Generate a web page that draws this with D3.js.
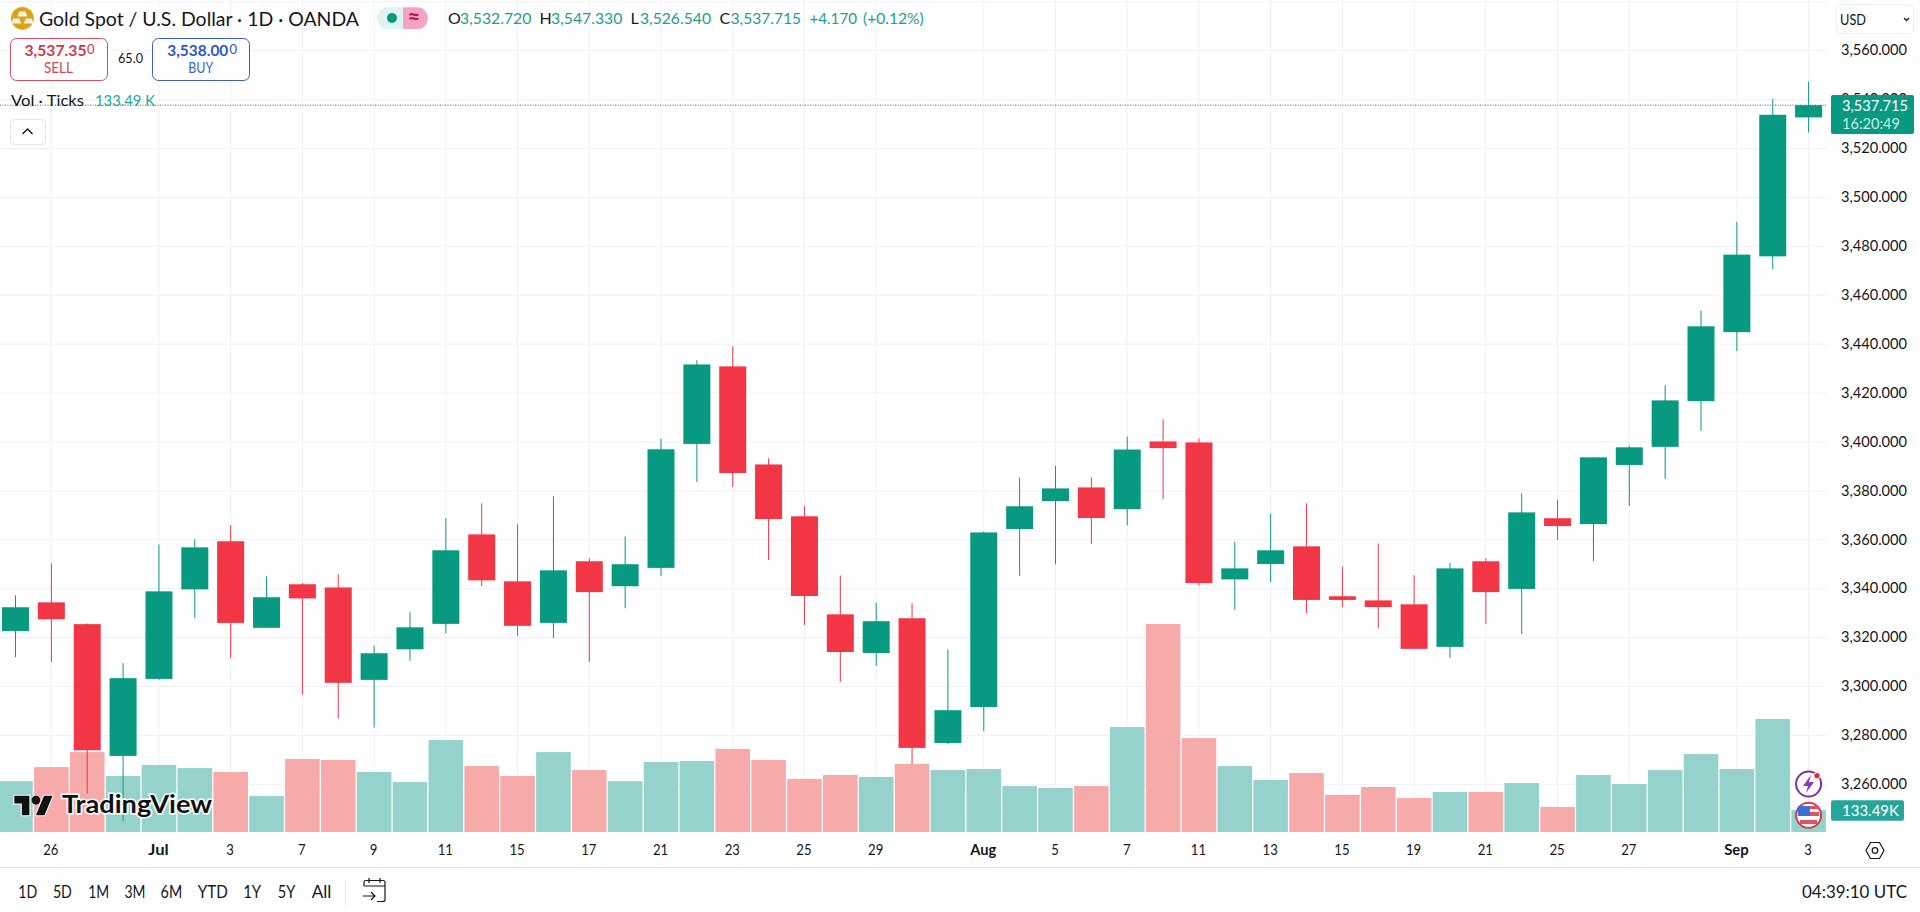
<!DOCTYPE html>
<html><head><meta charset="utf-8">
<script src="https://cdn.jsdelivr.net/npm/d3@7"></script>
<style>html,body{margin:0;padding:0;background:#fff;overflow:hidden}svg{display:block}text{font-family:Lato,"Open Sans",sans-serif}</style>
</head><body><svg id="c" width="1920" height="912"></svg>
<script>
const dates=["Jun 25","Jun 26","Jun 27","Jun 30","Jul 1","Jul 2","Jul 3","Jul 4","Jul 7","Jul 8","Jul 9","Jul 10","Jul 11","Jul 14","Jul 15","Jul 16","Jul 17","Jul 18","Jul 21","Jul 22","Jul 23","Jul 24","Jul 25","Jul 28","Jul 29","Jul 30","Jul 31","Aug 1","Aug 4","Aug 5","Aug 6","Aug 7","Aug 8","Aug 11","Aug 12","Aug 13","Aug 14","Aug 15","Aug 18","Aug 19","Aug 20","Aug 21","Aug 22","Aug 25","Aug 26","Aug 27","Aug 28","Aug 29","Sep 1","Sep 2","Sep 3"];
const opens=[3322.7,3334.4,3325.5,3271.6,3303.1,3339.7,3359.4,3324,3341.8,3340.5,3302.7,3315.2,3325.6,3362.2,3343,3326,3351.2,3341,3348.5,3399.2,3430.9,3390.8,3369.6,3329.5,3313.7,3327.9,3276.9,3291.6,3364.4,3375.8,3381.4,3372.5,3400.2,3399.8,3343.8,3350.1,3357.3,3336.9,3335.2,3333.6,3316.2,3351.2,3339.9,3368.8,3366.4,3390.6,3398,3416.7,3444.9,3475.9,3532.72];
const highs=[3337.3,3350.4,3325.8,3309.5,3358.1,3360.2,3366,3345,3342.3,3345.9,3316.7,3330.4,3368.8,3374.9,3366.3,3377.8,3352.4,3361.3,3401.3,3433.4,3439.1,3393.3,3373.7,3345.4,3334.3,3334,3315.2,3363.4,3385.5,3390.3,3385.5,3402.2,3409.2,3401.5,3359.2,3370.7,3374.9,3349.1,3358.5,3345.5,3350.5,3352.4,3379,3376.4,3393.7,3398.5,3423.2,3453.8,3490,3540.3,3547.33];
const lows=[3312,3310,3256.3,3244.8,3302.7,3327.9,3311.5,3324,3296.6,3287,3283.2,3310.5,3321.8,3341,3320.7,3319.7,3310,3332,3345.2,3383.6,3381.6,3351.7,3325.2,3301.9,3308.4,3268.3,3276.4,3281.7,3345.2,3350,3358.3,3365.9,3376.5,3341.2,3331.4,3342.7,3330,3332.5,3323.8,3315.4,3311.7,3325.6,3321.5,3359.9,3351.3,3373.8,3384.9,3404.5,3437.1,3470.7,3526.54];
const closes=[3332.4,3327.5,3273.9,3303.4,3338.9,3356.9,3326,3336.5,3336,3301.5,3313.6,3324.2,3355.7,3343.4,3324.8,3347.5,3338.6,3350,3397,3431.7,3387.3,3368.5,3337,3314.1,3326.7,3274.9,3290.3,3363,3373.7,3381,3368.9,3396.9,3397.5,3342.3,3348.3,3355.7,3335.4,3335.4,3332.5,3315.4,3348.3,3338.6,3371.2,3365.6,3393.7,3397.8,3417,3447.3,3476.6,3533.8,3537.715];
const volumes=[309,394,485,340,407,388,364,218,443,437,364,303,558,400,340,485,376,309,425,431,504,437,322,346,334,413,376,382,279,267,279,637,1262,570,400,316,358,225,273,206,243,243,297,152,346,291,376,473,382,686,133.49];
const priceTicks=[3580,3560,3540,3520,3500,3480,3460,3440,3420,3400,3380,3360,3340,3320,3300,3280,3260];
const timeIdx=[1,4,6,8,10,12,14,16,18,20,22,24,27,29,31,33,35,37,39,41,43,45,48,50];
const timeLabels=["26","Jul","3","7","9","11","15","17","21","23","25","29","Aug","5","7","11","13","15","19","21","25","27","Sep","3"];
const monthLabels=["Jul","Aug","Sep"];
const ranges=["1D","5D","1M","3M","6M","YTD","1Y","5Y","All"];
const lastPrice=3537.715, lastVol=133.49;

const UP="#089981",DN="#F23645",INK="#131722",GRID="#eff1f5";
const svg=d3.select("#c");
const x=d3.scaleLinear().domain([0,50]).range([15.5,1808.6]);
const y=d3.scaleLinear().domain([3560,3260]).range([50.7,784.3]);
const yv=d3.scaleLinear().domain([0,133.49]).range([832,810]);
const BW=27, VW=34.6;
const n=dates.length, idx=d3.range(n);
const col=i=>closes[i]>=opens[i]?UP:DN;

function T(g,px,py,s,o={}){const t=g.append("text").attr("x",px).attr("y",py).text(s)
 .attr("font-size",o.size||15).attr("fill",o.fill||INK).attr("text-anchor",o.anchor||"start").attr("font-weight",o.weight||400);
 if(o.len)t.attr("textLength",o.len).attr("lengthAdjust","spacingAndGlyphs");return t;}

// grid
const grid=svg.append("g");
grid.selectAll("line.h").data(priceTicks).join("line").attr("class","h").attr("x1",0).attr("x2",1827).attr("y1",d=>y(d)).attr("y2",d=>y(d)).attr("stroke",GRID);
grid.selectAll("line.v").data(timeIdx).join("line").attr("class","v").attr("x1",d=>x(d)).attr("x2",d=>x(d)).attr("y1",0).attr("y2",832).attr("stroke",GRID);

// volume
svg.append("g").selectAll("rect").data(idx).join("rect")
 .attr("x",i=>x(i)-VW/2).attr("width",VW).attr("y",i=>yv(volumes[i])).attr("height",i=>832-yv(volumes[i]))
 .attr("fill",i=>col(i)==UP?"#90d0c9":"#f6a5a5").attr("fill-opacity",.95);

// candles
const cg=svg.append("g");
cg.selectAll("line").data(idx).join("line").attr("x1",i=>x(i)).attr("x2",i=>x(i)).attr("y1",i=>y(highs[i])).attr("y2",i=>y(lows[i])).attr("stroke",col).attr("stroke-width",1);
cg.selectAll("rect").data(idx).join("rect").attr("x",i=>x(i)-BW/2).attr("width",BW)
 .attr("y",i=>y(Math.max(opens[i],closes[i]))).attr("height",i=>Math.max(1,Math.abs(y(opens[i])-y(closes[i])))).attr("fill",col);

// last price line
svg.append("line").attr("x1",0).attr("x2",1827).attr("y1",y(lastPrice)).attr("y2",y(lastPrice)).attr("stroke","#2c7469").attr("stroke-dasharray","1 1.5").attr("stroke-width",1);

// price axis
const pa=svg.append("g").attr("transform","translate(1841,-1.3)").call(d3.axisRight(y).tickValues(priceTicks.filter(d=>d<=3560)).tickFormat(d3.format(",.3f")).tickSize(0).tickPadding(0));
pa.select(".domain").remove();
pa.selectAll("text").attr("font-family",null).attr("font-size",15.5).attr("fill",INK).attr("dy","0.36em").attr("textLength",66).attr("lengthAdjust","spacingAndGlyphs");

// time axis
const ta=svg.append("g").attr("transform","translate(-1,832)").call(d3.axisBottom(x).tickValues(timeIdx).tickFormat((d,i)=>timeLabels[i]).tickSize(0).tickPadding(0));
ta.select(".domain").remove();
const monthW={Jul:20.4,Aug:26,Sep:24.5};
ta.selectAll("text").attr("font-family",null).attr("font-size",15).attr("fill",INK).attr("y",23).attr("dy",0)
 .attr("font-weight",(d,i)=>monthLabels.includes(timeLabels[i])?700:400)
 .attr("textLength",(d,i)=>monthW[timeLabels[i]]||timeLabels[i].length*7.6).attr("lengthAdjust","spacingAndGlyphs");
svg.append("line").attr("x1",0).attr("x2",1920).attr("y1",867.5).attr("y2",867.5).attr("stroke","#e0e3eb");

// tags
const tag=svg.append("g");
tag.append("rect").attr("x",1831).attr("y",95).attr("width",83).attr("height",39).attr("rx",2).attr("fill",UP);
T(tag,1842,110.5,d3.format(",.3f")(lastPrice),{fill:"#fff",size:16,len:66});
T(tag,1842,128.5,"16:20:49",{fill:"#c9ebe5",size:16,len:58});
tag.append("rect").attr("x",1831).attr("y",800.3).attr("width",73).attr("height",20.5).attr("rx",2).attr("fill","#26a69a");
T(tag,1842,816,lastVol+"K",{fill:"#fff",size:16,len:57});

// icons on axis
const ic=svg.append("g");
ic.append("circle").attr("cx",1808.6).attr("cy",784).attr("r",12.5).attr("fill","#fff").attr("stroke","#7e2fa6").attr("stroke-width",2);
ic.append("path").attr("d","M1811 775l-8 11h5l-2 7 8-11h-5z").attr("fill","#8e3bb8");
ic.append("circle").attr("cx",1817).attr("cy",775.7).attr("r",3.2).attr("fill","#e8263a").attr("stroke","#fff");
ic.append("circle").attr("cx",1808.6).attr("cy",815.3).attr("r",12.5).attr("fill","#fff").attr("stroke","#d9394a").attr("stroke-width",2);
ic.append("rect").attr("x",1799).attr("y",806).attr("width",20).attr("height",3).attr("fill","#e0525f");
ic.append("rect").attr("x",1798).attr("y",812).attr("width",21).attr("height",4).attr("fill","#e0525f");
ic.append("rect").attr("x",1800).attr("y",820).attr("width",17).attr("height",4).attr("fill","#e0525f");
ic.append("rect").attr("x",1798).attr("y",806).attr("width",12).attr("height",10).attr("fill","#3f6fd8");
// settings hex
ic.append("path").attr("d","M1866 850.5l4.5-8h9l4.5 8-4.5 8h-9z").attr("fill","none").attr("stroke",INK).attr("stroke-width",1.2);
ic.append("circle").attr("cx",1875).attr("cy",850.5).attr("r",2.8).attr("fill","none").attr("stroke",INK).attr("stroke-width",1.2);

// watermark
const wm=svg.append("g");
wm.append("path").attr("transform","translate(14.3,791.5) scale(1.08)").attr("d","M14 22H7V11H0V4h14v18zM28 22h-8l7.5-18h8L28 22z").attr("fill","#111").attr("stroke","#fff").attr("stroke-width",2).attr("paint-order","stroke");
wm.append("circle").attr("cx",35.9).attr("cy",800.1).attr("r",4.3).attr("fill","#111");
T(wm,62,813,"TradingView",{size:24,weight:700,fill:"#111",len:150}).attr("stroke","#fff").attr("stroke-width",3).attr("paint-order","stroke");

// header
const hd=svg.append("g");
hd.append("circle").attr("cx",22.4).attr("cy",18.3).attr("r",11.4).attr("fill","#dca21c");
[[22.4,11.5],[16.2,18.5],[28.6,18.5]].forEach(p=>hd.append("path").attr("d",`M${p[0]-3},${p[1]}h6l2,5h-10z`).attr("fill","#fbf3dc"));
T(hd,39,26,"Gold Spot / U.S. Dollar · 1D · OANDA",{size:19,len:320});
hd.append("path").attr("d","M403,7.3h-15a10.9,10.9 0 0 0 0,21.8h15z").attr("fill","#dff3ef");
hd.append("path").attr("d","M403,7.3h14a10.9,10.9 0 0 1 0,21.8h-14z").attr("fill","#f7a4c4");
hd.append("circle").attr("cx",392).attr("cy",18).attr("r",5).attr("fill",UP);
T(hd,414,25,"≈",{size:22,fill:"#b01a5e",anchor:"middle",weight:700});
const OH="#1f9e8a";
[[448,"O",INK,0],[460,"3,532.720",OH,71.4],[539.6,"H",INK,0],[551,"3,547.330",OH,71.4],[630.6,"L",INK,0],[640,"3,526.540",OH,71],[719.6,"C",INK,0],[730.6,"3,537.715",OH,70.4],[809.4,"+4.170",OH,47.6],[863,"(+0.12%)",OH,60.7]]
 .forEach(a=>T(hd,a[0],24,a[1],{size:16,fill:a[2],len:a[3]||null}));

// sell / buy
hd.append("rect").attr("x",10.5).attr("y",38.5).attr("width",97).attr("height",42).attr("rx",6).attr("fill","#fff").attr("stroke","#d0505e");
hd.append("rect").attr("x",152.5).attr("y",38.5).attr("width",97).attr("height",42).attr("rx",6).attr("fill","#fff").attr("stroke","#3560b8");
T(hd,24.5,56,"3,537.35",{size:16,weight:700,fill:"#c93a4b",len:62});
T(hd,87,54,"0",{size:13,fill:"#c93a4b"});
T(hd,58.4,73,"SELL",{size:14.5,fill:"#cf4a58",anchor:"middle",len:29});
T(hd,118,63,"65.0",{size:13.5,len:25});
T(hd,167.3,56,"3,538.00",{size:16,weight:700,fill:"#2d56c4",len:61});
T(hd,229.5,54,"0",{size:13,fill:"#2d56c4"});
T(hd,200.8,73,"BUY",{size:14.5,fill:"#3f66b8",anchor:"middle",len:25});
T(hd,11,106,"Vol · Ticks",{size:16,len:73});
T(hd,95,106,"133.49 K",{size:16,fill:"#26a69a",len:60});

// collapse button
hd.append("rect").attr("x",10.5).attr("y",119.5).attr("width",35).attr("height",25).attr("rx",4).attr("fill","#fff").attr("stroke","#e0e3eb");
hd.append("path").attr("d","M22.5,134l5-5 5,5").attr("fill","none").attr("stroke",INK).attr("stroke-width",1.4);

// currency
hd.append("rect").attr("x",1836.5).attr("y",4.5).attr("width",77).attr("height",29).attr("rx",4).attr("fill","#fff").attr("stroke","#eef0f5");
T(hd,1840,25,"USD",{size:16,len:26});
hd.append("path").attr("d","M1904,18l2.5,2.5 2.5,-2.5").attr("fill","none").attr("stroke",INK).attr("stroke-width",1.3);

// bottom bar
const rx=[27.8,62.4,98.8,135,171.4,212.7,252.2,286.5,321.6];
const rw=[19,19,21,21,21.6,30,18,17.5,19.6];
ranges.forEach((r,i)=>T(hd,rx[i],897.5,r,{size:17.5,anchor:"middle",len:rw[i]}));
hd.append("line").attr("x1",345.5).attr("x2",345.5).attr("y1",880).attr("y2",905).attr("stroke","#e0e3eb");
hd.append("path").attr("d","M364,886v-3.5a2,2 0 0 1 2,-2h17a2,2 0 0 1 2,2v17a2,2 0 0 1 -2,2h-6M364,886h21M369,878v5M380,878v5M363,896h12M371,892l4,4 -4,4").attr("fill","none").attr("stroke",INK).attr("stroke-width",1.2);
T(hd,1907,897.5,"04:39:10 UTC",{size:17.5,anchor:"end",len:105});
</script></body></html>
